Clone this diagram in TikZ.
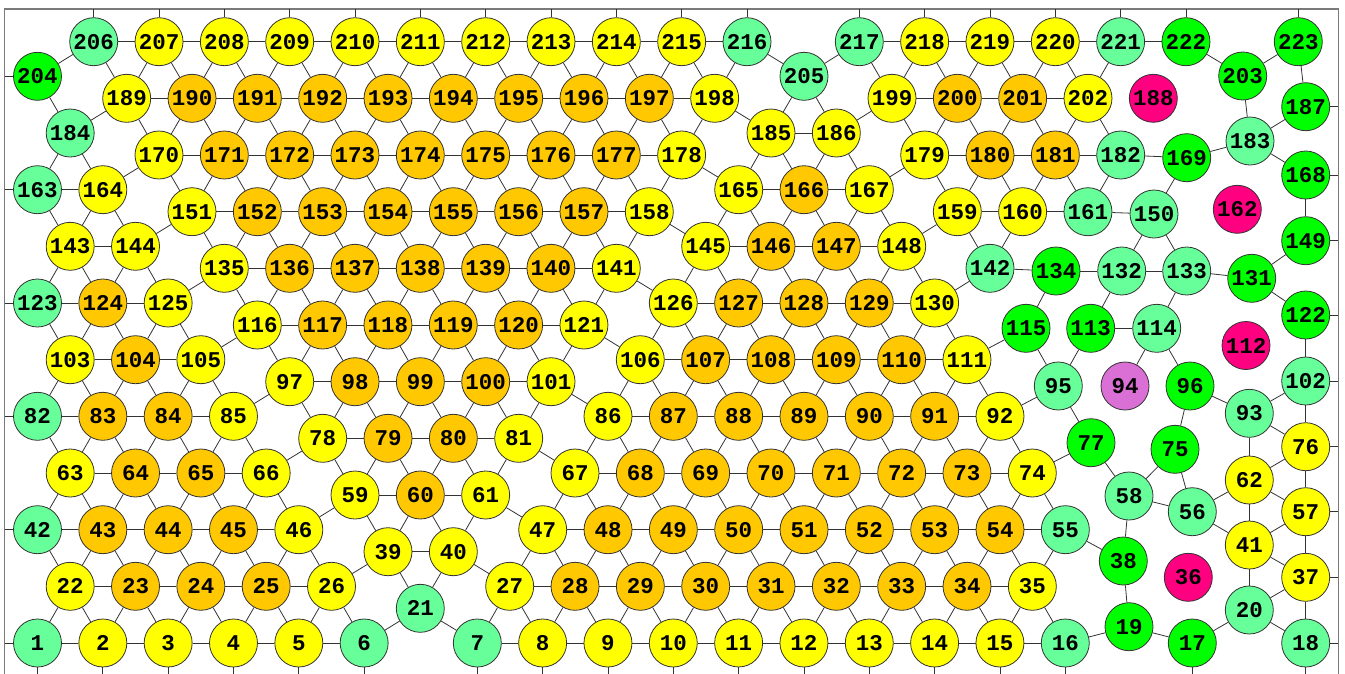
\documentclass[tikz,border=0pt]{standalone}
\usepackage{fontspec}
\setmonofont{Liberation Mono}
\definecolor{cor}{HTML}{FFC800}
\definecolor{cye}{HTML}{FFFF00}
\definecolor{clg}{HTML}{66FF99}
\definecolor{cgr}{HTML}{00FF00}
\definecolor{cmg}{HTML}{FF0080}
\definecolor{cvi}{HTML}{DA70D6}
\definecolor{cedge}{HTML}{333333}
\definecolor{cframe}{HTML}{7A7A7A}
\begin{document}
\begin{tikzpicture}[x=1pt,y=-1pt,
  nd/.style={circle,draw=cedge,line width=0.8pt,minimum size=48pt,inner sep=0pt,
    font=\ttfamily\bfseries\fontsize{22.5}{22.5}\selectfont},
  edge/.style={draw=cedge,line width=0.8pt}]
\path[use as bounding box, clip] (0,0) rectangle (1345,673);
\draw[cframe,line width=1.3pt] (4.7,9) rectangle (1338.3,675.7);
\coordinate (top) at (0,9);
\coordinate (bot) at (0,675.7);
\coordinate (lft) at (4.7,0);
\coordinate (rgt) at (1338.3,0);
% ---------- M patch
\foreach \n/\s [count=\k from 0] in {206/clg,207/cye,208/cye,209/cye,210/cye,211/cye,212/cye,213/cye,214/cye,215/cye,216/clg}
  \node[nd,fill=\s] (n\n) at ({93.7+65.33*\k},41.7) {\n};
\foreach \n/\s [count=\k from 0] in {189/cye,190/cor,191/cor,192/cor,193/cor,194/cor,195/cor,196/cor,197/cor,198/cye}
  \node[nd,fill=\s] (n\n) at ({126.7+65.33*\k},98.3) {\n};
\foreach \n/\s [count=\k from 0] in {170/cye,171/cor,172/cor,173/cor,174/cor,175/cor,176/cor,177/cor,178/cye}
  \node[nd,fill=\s] (n\n) at ({159+65.33*\k},155) {\n};
\foreach \n/\s [count=\k from 0] in {151/cye,152/cor,153/cor,154/cor,155/cor,156/cor,157/cor,158/cye}
  \node[nd,fill=\s] (n\n) at ({192+65.33*\k},211.7) {\n};
\foreach \n/\s [count=\k from 0] in {135/cye,136/cor,137/cor,138/cor,139/cor,140/cor,141/cye}
  \node[nd,fill=\s] (n\n) at ({224.3+65.33*\k},268.3) {\n};
\foreach \n/\s [count=\k from 0] in {116/cye,117/cor,118/cor,119/cor,120/cor,121/cye}
  \node[nd,fill=\s] (n\n) at ({257.3+65.33*\k},325) {\n};
\foreach \n/\s [count=\k from 0] in {97/cye,98/cor,99/cor,100/cor,101/cye}
  \node[nd,fill=\s] (n\n) at ({289.7+65.33*\k},381.7) {\n};
\foreach \n/\s [count=\k from 0] in {78/cye,79/cor,80/cor,81/cye}
  \node[nd,fill=\s] (n\n) at ({322.7+65.33*\k},438.3) {\n};
\foreach \n/\s [count=\k from 0] in {59/cye,60/cor,61/cye}
  \node[nd,fill=\s] (n\n) at ({355+65.33*\k},495) {\n};
\foreach \n/\s [count=\k from 0] in {39/cye,40/cye}
  \node[nd,fill=\s] (n\n) at ({388+65.33*\k},551.7) {\n};
\node[nd,fill=clg] (n21) at (420.3,608.3) {21};
% ---------- L patch
\foreach \n/\s [count=\k from 0] in {1/clg,2/cye,3/cye,4/cye,5/cye,6/clg}
  \node[nd,fill=\s] (n\n) at ({37.5+65.33*\k},643) {\n};
\foreach \n/\s [count=\k from 0] in {22/cye,23/cor,24/cor,25/cor,26/cye}
  \node[nd,fill=\s] (n\n) at ({70.2+65.33*\k},586.3) {\n};
\foreach \n/\s [count=\k from 0] in {42/clg,43/cor,44/cor,45/cor,46/cye}
  \node[nd,fill=\s] (n\n) at ({37.5+65.33*\k},529.7) {\n};
\foreach \n/\s [count=\k from 0] in {63/cye,64/cor,65/cor,66/cye}
  \node[nd,fill=\s] (n\n) at ({70.2+65.33*\k},473) {\n};
\foreach \n/\s [count=\k from 0] in {82/clg,83/cor,84/cor,85/cye}
  \node[nd,fill=\s] (n\n) at ({37.5+65.33*\k},416.3) {\n};
\foreach \n/\s [count=\k from 0] in {103/cye,104/cor,105/cye}
  \node[nd,fill=\s] (n\n) at ({70.2+65.33*\k},359.7) {\n};
\foreach \n/\s [count=\k from 0] in {123/clg,124/cor,125/cye}
  \node[nd,fill=\s] (n\n) at ({37.5+65.33*\k},303) {\n};
\foreach \n/\s [count=\k from 0] in {143/cye,144/cye}
  \node[nd,fill=\s] (n\n) at ({70.2+65.33*\k},246.3) {\n};
\foreach \n/\s [count=\k from 0] in {163/clg,164/cye}
  \node[nd,fill=\s] (n\n) at ({37.5+65.33*\k},189.7) {\n};
\node[nd,fill=clg] (n184) at (70.2,133) {184};
\node[nd,fill=cgr] (n204) at (37.5,76.3) {204};
% ---------- C patch
\foreach \n/\s [count=\k from 0] in {7/clg,8/cye,9/cye,10/cye,11/cye,12/cye,13/cye,14/cye,15/cye,16/clg}
  \node[nd,fill=\s] (n\n) at ({477.3+65.33*\k},643) {\n};
\foreach \n/\s [count=\k from 0] in {27/cye,28/cor,29/cor,30/cor,31/cor,32/cor,33/cor,34/cor,35/cye}
  \node[nd,fill=\s] (n\n) at ({509.7+65.33*\k},586.3) {\n};
\foreach \n/\s [count=\k from 0] in {47/cye,48/cor,49/cor,50/cor,51/cor,52/cor,53/cor,54/cor,55/clg}
  \node[nd,fill=\s] (n\n) at ({542.7+65.33*\k},529.7) {\n};
\foreach \n/\s [count=\k from 0] in {67/cye,68/cor,69/cor,70/cor,71/cor,72/cor,73/cor,74/cye}
  \node[nd,fill=\s] (n\n) at ({575+65.33*\k},473) {\n};
\foreach \n/\s [count=\k from 0] in {86/cye,87/cor,88/cor,89/cor,90/cor,91/cor,92/cye}
  \node[nd,fill=\s] (n\n) at ({608+65.33*\k},416.3) {\n};
\foreach \n/\s [count=\k from 0] in {106/cye,107/cor,108/cor,109/cor,110/cor,111/cye}
  \node[nd,fill=\s] (n\n) at ({640.3+65.33*\k},359.7) {\n};
\foreach \n/\s [count=\k from 0] in {126/cye,127/cor,128/cor,129/cor,130/cye}
  \node[nd,fill=\s] (n\n) at ({673.3+65.33*\k},303) {\n};
\foreach \n/\s [count=\k from 0] in {145/cye,146/cor,147/cor,148/cye}
  \node[nd,fill=\s] (n\n) at ({705.7+65.33*\k},246.3) {\n};
\foreach \n/\s [count=\k from 0] in {165/cye,166/cor,167/cye}
  \node[nd,fill=\s] (n\n) at ({738.7+65.33*\k},189.7) {\n};
\foreach \n/\s [count=\k from 0] in {185/cye,186/cye}
  \node[nd,fill=\s] (n\n) at ({771+65.33*\k},133) {\n};
\node[nd,fill=clg] (n205) at (804,76.3) {205};
% ---------- R1 patch
\foreach \n/\s [count=\k from 0] in {217/clg,218/cye,219/cye,220/cye,221/clg,222/cgr}
  \node[nd,fill=\s] (n\n) at ({859.3+65.33*\k},41.7) {\n};
\foreach \n/\s [count=\k from 0] in {199/cye,200/cor,201/cor,202/cye,188/cmg}
  \node[nd,fill=\s] (n\n) at ({892+65.33*\k},98.3) {\n};
\foreach \n/\s [count=\k from 0] in {179/cye,180/cor,181/cor,182/clg}
  \node[nd,fill=\s] (n\n) at ({924.7+65.33*\k},155) {\n};
\foreach \n/\s [count=\k from 0] in {159/cye,160/cye,161/clg}
  \node[nd,fill=\s] (n\n) at ({957.3+65.33*\k},211.7) {\n};
\node[nd,fill=clg] (n142) at (990,268.3) {142};
% ---------- irregular nodes
\foreach \n/\s/\x/\y in {223/cgr/1298.3/41.7, 203/cgr/1242.7/76, 187/cgr/1305.7/106.7,
  183/clg/1250/141, 169/cgr/1186.7/157.7, 168/cgr/1305.7/175, 162/cmg/1237.3/209.3,
  150/clg/1154/214, 149/cgr/1305.7/240.7, 134/cgr/1056/271, 132/clg/1121.7/271,
  133/clg/1186.7/271, 131/cgr/1251.7/278.3, 122/cgr/1305.7/315, 115/cgr/1026/328.3,
  113/cgr/1090.7/328.3, 114/clg/1156.7/328.3, 112/cmg/1246/345.5, 95/clg/1058.3/386,
  94/cvi/1125/386, 96/cgr/1190/386, 102/clg/1305.7/381, 93/clg/1249.3/413.3,
  77/cgr/1091/442.7, 75/cgr/1175/449.3, 76/cye/1305.7/446.7, 62/cye/1249.3/480,
  58/clg/1129/496, 56/clg/1192.3/511.7, 57/cye/1305.7/511.7, 41/cye/1249.3/545,
  38/cgr/1123.3/561, 36/cmg/1188.3/577.3, 37/cye/1305.7/577.3, 20/clg/1249.3/610,
  19/cgr/1129/626.7, 17/cgr/1192.3/643, 18/clg/1305.7/643}
  \node[nd,fill=\s] (n\n) at (\x,\y) {\n};
% ---------- edges
\foreach \a/\b in {1/2,2/3,3/4,4/5,5/6,22/23,23/24,24/25,25/26,42/43,43/44,44/45,45/46,63/64,64/65,65/66,82/83,83/84,84/85,103/104,104/105,123/124,124/125,143/144,163/164,
22/1,22/2,23/2,23/3,24/3,24/4,25/4,25/5,26/5,26/6,
42/22,43/22,43/23,44/23,44/24,45/24,45/25,46/25,46/26,
63/42,63/43,64/43,64/44,65/44,65/45,66/45,66/46,
82/63,83/63,83/64,84/64,84/65,85/65,85/66,
103/82,103/83,104/83,104/84,105/84,105/85,
123/103,124/103,124/104,125/104,125/105,
143/123,143/124,144/124,144/125,
163/143,164/143,164/144,
184/163,184/164,204/184}
  \draw[edge] (n\a) -- (n\b);
\foreach \a/\b in {206/207,207/208,208/209,209/210,210/211,211/212,212/213,213/214,214/215,215/216,
189/190,190/191,191/192,192/193,193/194,194/195,195/196,196/197,197/198,
170/171,171/172,172/173,173/174,174/175,175/176,176/177,177/178,
151/152,152/153,153/154,154/155,155/156,156/157,157/158,
135/136,136/137,137/138,138/139,139/140,140/141,
116/117,117/118,118/119,119/120,120/121,
97/98,98/99,99/100,100/101,
78/79,79/80,80/81,
59/60,60/61,
39/40,
206/189,207/189,207/190,208/190,208/191,209/191,209/192,210/192,210/193,211/193,211/194,212/194,212/195,213/195,213/196,214/196,214/197,215/197,215/198,216/198,
189/170,190/170,190/171,191/171,191/172,192/172,192/173,193/173,193/174,194/174,194/175,195/175,195/176,196/176,196/177,197/177,197/178,198/178,
170/151,171/151,171/152,172/152,172/153,173/153,173/154,174/154,174/155,175/155,175/156,176/156,176/157,177/157,177/158,178/158,
151/135,152/135,152/136,153/136,153/137,154/137,154/138,155/138,155/139,156/139,156/140,157/140,157/141,158/141,
135/116,136/116,136/117,137/117,137/118,138/118,138/119,139/119,139/120,140/120,140/121,141/121,
116/97,117/97,117/98,118/98,118/99,119/99,119/100,120/100,120/101,121/101,
97/78,98/78,98/79,99/79,99/80,100/80,100/81,101/81,
78/59,79/59,79/60,80/60,80/61,81/61,
59/39,60/39,60/40,61/40,
39/21,40/21}
  \draw[edge] (n\a) -- (n\b);
\foreach \a/\b in {7/8,8/9,9/10,10/11,11/12,12/13,13/14,14/15,15/16,
27/28,28/29,29/30,30/31,31/32,32/33,33/34,34/35,
47/48,48/49,49/50,50/51,51/52,52/53,53/54,54/55,
67/68,68/69,69/70,70/71,71/72,72/73,73/74,
86/87,87/88,88/89,89/90,90/91,91/92,
106/107,107/108,108/109,109/110,110/111,
126/127,127/128,128/129,129/130,
145/146,146/147,147/148,
165/166,166/167,
185/186,
27/7,27/8,28/8,28/9,29/9,29/10,30/10,30/11,31/11,31/12,32/12,32/13,33/13,33/14,34/14,34/15,35/15,35/16,
47/27,47/28,48/28,48/29,49/29,49/30,50/30,50/31,51/31,51/32,52/32,52/33,53/33,53/34,54/34,54/35,55/35,
67/47,67/48,68/48,68/49,69/49,69/50,70/50,70/51,71/51,71/52,72/52,72/53,73/53,73/54,74/54,74/55,
86/67,86/68,87/68,87/69,88/69,88/70,89/70,89/71,90/71,90/72,91/72,91/73,92/73,92/74,
106/86,106/87,107/87,107/88,108/88,108/89,109/89,109/90,110/90,110/91,111/91,111/92,
126/106,126/107,127/107,127/108,128/108,128/109,129/109,129/110,130/110,130/111,
145/126,145/127,146/127,146/128,147/128,147/129,148/129,148/130,
165/145,165/146,166/146,166/147,167/147,167/148,
185/165,185/166,186/166,186/167,
205/185,205/186}
  \draw[edge] (n\a) -- (n\b);
\foreach \a/\b in {217/218,218/219,219/220,220/221,221/222,199/200,200/201,201/202,179/180,180/181,181/182,159/160,160/161,
199/217,199/218,200/218,200/219,201/219,201/220,202/220,202/221,
179/199,179/200,180/200,180/201,181/201,181/202,182/202,
159/179,159/180,160/180,160/181,161/181,161/182,
142/159,142/160,
26/39,46/59,66/78,85/97,105/116,125/135,144/151,164/170,184/189,204/206,
6/21,21/7,40/27,61/47,81/67,101/86,121/106,141/126,158/145,178/165,198/185,216/205,
205/217,186/199,167/179,148/159,130/142,
142/134,134/132,132/133,134/115,132/113,133/114,133/131,132/150,133/150,150/161,150/169,182/169,169/183,183/203,183/187,183/168,203/222,203/223,223/187,168/149,149/131,131/122,122/102,
111/115,115/95,113/95,113/114,114/94,114/96,92/95,95/77,96/93,96/75,93/102,93/76,93/62,102/76,76/62,76/57,74/77,77/58,75/58,75/56,58/56,58/38,62/56,62/57,62/41,56/41,57/41,57/37,41/37,41/20,55/38,38/19,37/20,37/18,20/17,20/18,16/19,19/17}
  \draw[edge] (n\a) -- (n\b);
% ---------- stubs to the frame
\foreach \n in {206,207,208,209,210,211,212,213,214,215,216,217,218,219,220,221,222,223}
  \draw[edge] (n\n) -- (n\n |- top);
\foreach \n in {1,2,3,4,5,6,7,8,9,10,11,12,13,14,15,16,17,18}
  \draw[edge] (n\n) -- (n\n |- bot);
\foreach \n in {1,42,82,123,163,204}
  \draw[edge] (n\n) -- (n\n -| lft);
\foreach \n in {18,37,57,76,102,122,149,168,187}
  \draw[edge] (n\n) -- (n\n -| rgt);
\end{tikzpicture}
\end{document}
